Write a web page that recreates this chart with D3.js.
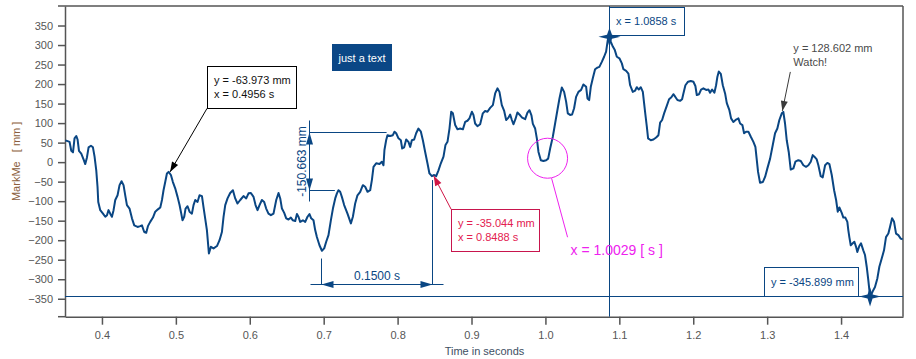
<!DOCTYPE html>
<html>
<head>
<meta charset="utf-8">
<script src="https://cdn.jsdelivr.net/npm/d3@7"></script>
<style>
  body { margin: 0; background: #fff; }
  svg { display: block; font-family: "Liberation Sans", Arial, sans-serif; }
</style>
</head>
<body>
<div id="chart"></div>
<script>
'use strict';

// Data (seconds / mm)
var timeSec = [
  0.3505, 0.3517, 0.3562, 0.3585, 0.3608, 0.3629, 0.3652, 0.3670, 0.3689, 0.3720,
  0.3751, 0.3774, 0.3797, 0.3819, 0.3851, 0.3878, 0.3900, 0.3923, 0.3940, 0.3950,
  0.3977, 0.4014, 0.4045, 0.4068, 0.4089, 0.4112, 0.4135, 0.4157, 0.4180, 0.4211,
  0.4238, 0.4265, 0.4292, 0.4315, 0.4338, 0.4373, 0.4406, 0.4437, 0.4482, 0.4518,
  0.4541, 0.4572, 0.4599, 0.4622, 0.4653, 0.4690, 0.4721, 0.4757, 0.4789, 0.4812,
  0.4833, 0.4856, 0.4879, 0.4901, 0.4933, 0.4960, 0.4991, 0.5023, 0.5050, 0.5073,
  0.5090, 0.5113, 0.5131, 0.5158, 0.5185, 0.5217, 0.5239, 0.5262, 0.5293, 0.5320,
  0.5353, 0.5374, 0.5420, 0.5447, 0.5474, 0.5510, 0.5556, 0.5591, 0.5623, 0.5645,
  0.5668, 0.5699, 0.5735, 0.5772, 0.5803, 0.5834, 0.5871, 0.5915, 0.5952, 0.5983,
  0.6015, 0.6051, 0.6078, 0.6105, 0.6132, 0.6164, 0.6195, 0.6222, 0.6253, 0.6286,
  0.6321, 0.6358, 0.6389, 0.6412, 0.6435, 0.6466, 0.6493, 0.6524, 0.6556, 0.6583,
  0.6615, 0.6638, 0.6659, 0.6682, 0.6719, 0.6750, 0.6781, 0.6808, 0.6831, 0.6862,
  0.6885, 0.6908, 0.6943, 0.6976, 0.7007, 0.7034, 0.7065, 0.7097, 0.7125, 0.7156,
  0.7179, 0.7200, 0.7223, 0.7246, 0.7277, 0.7322, 0.7368, 0.7395, 0.7426, 0.7457,
  0.7494, 0.7530, 0.7561, 0.7593, 0.7629, 0.7652, 0.7674, 0.7710, 0.7755, 0.7787,
  0.7809, 0.7822, 0.7845, 0.7863, 0.7900, 0.7936, 0.7958, 0.7981, 0.8012, 0.8044,
  0.8062, 0.8089, 0.8116, 0.8147, 0.8170, 0.8193, 0.8224, 0.8251, 0.8282, 0.8315,
  0.8342, 0.8373, 0.8404, 0.8431, 0.8464, 0.8495, 0.8522, 0.8553, 0.8585, 0.8621,
  0.8648, 0.8675, 0.8702, 0.8725, 0.8748, 0.8779, 0.8810, 0.8846, 0.8883, 0.8914,
  0.8945, 0.8972, 0.9005, 0.9026, 0.9049, 0.9080, 0.9117, 0.9153, 0.9184, 0.9216,
  0.9252, 0.9289, 0.9320, 0.9351, 0.9378, 0.9410, 0.9442, 0.9469, 0.9500, 0.9523,
  0.9546, 0.9567, 0.9594, 0.9621, 0.9658, 0.9685, 0.9726, 0.9757, 0.9784, 0.9811,
  0.9830, 0.9861, 0.9884, 0.9906, 0.9938, 0.9973, 1.0010, 1.0037, 1.0064, 1.0100,
  1.0131, 1.0162, 1.0190, 1.0222, 1.0253, 1.0280, 1.0303, 1.0334, 1.0361, 1.0388,
  1.0415, 1.0447, 1.0483, 1.0514, 1.0551, 1.0569, 1.0592, 1.0614, 1.0641, 1.0672,
  1.0703, 1.0730, 1.0763, 1.0794, 1.0821, 1.0844, 1.0858, 1.0885, 1.0912, 1.0939,
  1.0966, 1.1001, 1.1034, 1.1055, 1.1092, 1.1123, 1.1146, 1.1182, 1.1213, 1.1236,
  1.1263, 1.1290, 1.1318, 1.1335, 1.1353, 1.1372, 1.1389, 1.1426, 1.1461, 1.1498,
  1.1529, 1.1552, 1.1579, 1.1606, 1.1642, 1.1673, 1.1704, 1.1731, 1.1758, 1.1786,
  1.1822, 1.1849, 1.1867, 1.1894, 1.1930, 1.1967, 1.2002, 1.2029, 1.2048, 1.2079,
  1.2106, 1.2137, 1.2174, 1.2205, 1.2228, 1.2255, 1.2286, 1.2309, 1.2327, 1.2346,
  1.2373, 1.2400, 1.2431, 1.2454, 1.2489, 1.2512, 1.2543, 1.2580, 1.2611, 1.2634,
  1.2665, 1.2688, 1.2715, 1.2746, 1.2779, 1.2814, 1.2841, 1.2860, 1.2877, 1.2904,
  1.2941, 1.2972, 1.3003, 1.3040, 1.3076, 1.3107, 1.3138, 1.3165, 1.3198, 1.3219,
  1.3242, 1.3265, 1.3292, 1.3319, 1.3355, 1.3382, 1.3422, 1.3455, 1.3490, 1.3526,
  1.3558, 1.3590, 1.3617, 1.3639, 1.3671, 1.3693, 1.3725, 1.3752, 1.3784, 1.3815,
  1.3842, 1.3874, 1.3906, 1.3933, 1.3955, 1.3977, 1.4009, 1.4031, 1.4058, 1.4085,
  1.4098, 1.4112, 1.4131, 1.4158, 1.4180, 1.4203, 1.4220, 1.4247, 1.4270, 1.4301,
  1.4324, 1.4347, 1.4369, 1.4383, 1.4392, 1.4415, 1.4436, 1.4459, 1.4491, 1.4518,
  1.4550, 1.4581, 1.4608, 1.4640, 1.4662, 1.4690, 1.4717, 1.4744, 1.4775, 1.4807,
  1.4834
]

var markMe = [
  55, 55, 52, 29, 25, 61, 67, 58, 29, 22,
  7, -5, 12, 38, 42, 38, 14, -21, -63, -102,
  -123, -132, -140, -136, -123, -132, -140, -123, -97, -85,
  -59, -49, -59, -85, -110, -119, -144, -162, -166, -164,
  -162, -179, -181, -164, -153, -142, -127, -121, -116, -97,
  -72, -51, -29, -25, -33, -51, -67, -89, -110, -132,
  -149, -140, -119, -113, -127, -132, -110, -97, -102, -85,
  -87, -115, -174, -234, -217, -221, -215, -200, -179, -140,
  -110, -93, -79, -72, -93, -106, -97, -87, -93, -80,
  -79, -89, -110, -123, -110, -97, -102, -119, -132, -136,
  -132, -97, -79, -93, -119, -130, -144, -147, -142, -149,
  -151, -133, -140, -153, -149, -153, -140, -133, -144, -149,
  -174, -192, -213, -227, -221, -204, -187, -149, -119, -93,
  -80, -72, -76, -89, -110, -132, -157, -140, -106, -85,
  -76, -59, -63, -76, -72, -46, -12, -3, -5, 1,
  -8, 31, 56, 69, 67, 69, 78, 74, 61, 56,
  35, 38, 58, 52, 39, 56, 58, 74, 86, 78,
  56, 26, -3, -29, -36, -33, -36, -21, -3, 14,
  44, 52, 86, 129, 125, 95, 84, 86, 84, 103,
  106, 112, 129, 121, 99, 92, 97, 125, 131, 129,
  139, 146, 176, 189, 180, 146, 131, 108, 114, 122,
  108, 97, 110, 127, 120, 114, 110, 127, 133, 120,
  98, 86, 61, 26, 5, 3, 5, 9, 35, 65,
  99, 133, 163, 191, 180, 155, 125, 121, 122, 138,
  167, 180, 185, 199, 193, 163, 159, 193, 215, 238,
  242, 244, 257, 270, 283, 313, 321, 308, 296, 287,
  270, 266, 253, 238, 234, 227, 197, 180, 183, 192,
  186, 192, 180, 151, 121, 91, 61, 56, 58, 63,
  69, 101, 108, 125, 144, 161, 166, 174, 167, 159,
  157, 161, 176, 197, 206, 208, 206, 195, 172, 174,
  186, 189, 185, 186, 178, 186, 178, 197, 219, 232,
  226, 197, 176, 151, 133, 112, 103, 109, 112, 99,
  95, 74, 78, 78, 65, 52, 39, 5, -25, -53,
  -51, -38, -16, 9, 44, 74, 86, 108, 125, 128.6,
  99, 56, 26, -19, -16, 1, 5, 3, -8, -12,
  -8, 1, 18, 14, 7, -8, -36, -39, -8, -2,
  -5, -33, -72, -97, -127, -116, -130, -142, -142, -153,
  -174, -192, -213, -208, -204, -217, -230, -215, -208, -226,
  -238, -268, -303, -328, -345.9, -337, -328, -320, -298, -268,
  -247, -226, -192, -183, -166, -144, -153, -183, -187, -196,
  -198
]

var xTicks = [0.4, 0.5, 0.6, 0.7, 0.8, 0.9, 1.0, 1.1, 1.2, 1.3, 1.4]
var yTicks = [-350, -300, -250, -200, -150, -100, -50, 0, 50, 100, 150, 200, 250, 300, 350]

// Annotated points
var peakX = 1.0858, peakY = 321
var lowX = 1.4392, lowY = -345.899
var call1 = { t: 0.4901, v: -25, lines: ['y = -63.973 mm', 'x = 0.4956 s'] }
var call2 = { t: 0.8488, v: -35.044, lines: ['y = -35.044 mm', 'x = 0.8488 s'] }
var watch = { t: 1.3219, v: 128.6, lines: ['y = 128.602 mm', 'Watch!'] }
var ring = { t: 1.0029, v: 10, label: 'x = 1.0029 [ s ]' }
var dimV = { t: 0.6804, v1: 78, v2: 78 - 150.663, end1: 0.7851, end2: 0.7151, label: '-150.663 mm' }
var dimH = { t1: 0.6966, t2: 0.8466, v: -313, start1: -247, start2: -46, label: '0.1500 s' }

var W = 916, H = 359
var margin = { top: 6, right: 13, bottom: 42.3, left: 65 }
var blue = '#0a4683'
var axisColor = '#555'

var x = d3.scaleLinear()
  .domain([0.35, 1.4838])
  .range([margin.left, W - margin.right])

var y = d3.scaleLinear()
  .domain([-396, 400])
  .range([H - margin.bottom, margin.top])

var svg = d3.select('#chart').append('svg')
  .attr('width', W)
  .attr('height', H)

var x0 = margin.left, x1 = W - margin.right
var y0 = margin.top, y1 = H - margin.bottom

// Axes
// ----
var yAxis = svg.append('g')
  .attr('transform', 'translate(' + x0 + ',0)')
  .call(d3.axisLeft(y).tickValues(yTicks).tickSize(7).tickSizeOuter(0).tickPadding(5))

var xAxis = svg.append('g')
  .attr('transform', 'translate(0,' + y1 + ')')
  .call(d3.axisBottom(x).tickValues(xTicks).tickFormat(d3.format('.1f')).tickSize(8).tickSizeOuter(0).tickPadding(7))

;[yAxis, xAxis].forEach(function(ax) {
  ax.selectAll('path, line').attr('stroke', axisColor).attr('stroke-width', 1.5)
  ax.selectAll('text')
    .attr('fill', '#565656')
    .style('font-size', '11px')
    .style('font-family', '"Liberation Sans", Arial, sans-serif')
})

// frame
svg.append('line').attr('x1', x0 - 7).attr('x2', x1).attr('y1', y0).attr('y2', y0)
  .attr('stroke', axisColor).attr('stroke-width', 1.5)
svg.append('line').attr('x1', x0 - 7).attr('x2', x0).attr('y1', y1).attr('y2', y1)
  .attr('stroke', axisColor).attr('stroke-width', 1.5)
svg.append('line').attr('x1', x1).attr('x2', x1).attr('y1', y0).attr('y2', y1)
  .attr('stroke', axisColor).attr('stroke-width', 1.5)

// axis titles
svg.append('text')
  .attr('transform', 'translate(20,' + ((y0 + y1) / 2) + ') rotate(-90)')
  .attr('text-anchor', 'middle')
  .style('white-space', 'pre')
  .style('font-size', '11px')
  .attr('fill', '#8b5e3c')
  .text('MarkMe   [ mm ]')

svg.append('text')
  .attr('x', (x0 + x1) / 2 + 0.5)
  .attr('y', 355)
  .attr('text-anchor', 'middle')
  .style('font-size', '11px')
  .attr('fill', '#3d4f63')
  .text('Time in seconds')

// Helpers
// -------
function arrowHead(g, fx, fy, tx, ty, color, len, half) {
  var a = Math.atan2(ty - fy, tx - fx)
  var bx = tx - len * Math.cos(a), by = ty - len * Math.sin(a)
  var px = half * Math.sin(a), py = half * Math.cos(a)
  g.append('polygon')
    .attr('points', [[tx, ty], [bx + px, by - py], [bx - px, by + py]].join(' '))
    .attr('fill', color)
}

function arrow(g, fx, fy, tx, ty, color) {
  g.append('line')
    .attr('x1', fx).attr('y1', fy).attr('x2', tx).attr('y2', ty)
    .attr('stroke', color).attr('stroke-width', 1)
  arrowHead(g, fx, fy, tx, ty, color, 10, 3.5)
}

function textBox(g, bx, by, bw, bh, lines, stroke, fill, color) {
  g.append('rect')
    .attr('x', bx + 0.5).attr('y', by + 0.5)
    .attr('width', bw).attr('height', bh)
    .attr('fill', fill).attr('stroke', stroke).attr('stroke-width', 1)
  lines.forEach(function(l, i) {
    g.append('text')
      .attr('x', bx + 7)
      .attr('y', by + (lines.length > 1 ? 18 + i * 14 : bh / 2 + 4))
      .style('font-size', '11px')
      .attr('fill', color)
      .text(l)
  })
}

function star(g, cx, cy) {
  g.append('path')
    .attr('d', 'M-11,0 L-2.5,-2 L0,-9 L2.5,-2 L11,0 L2.5,2 L0,10 L-2.5,2 Z')
    .attr('transform', 'translate(' + cx + ',' + cy + ')')
    .attr('fill', blue)
}

var ann = svg.append('g')

// Reference lines
ann.append('line')
  .attr('x1', Math.round(x(peakX)) + 0.5).attr('x2', Math.round(x(peakX)) + 0.5)
  .attr('y1', y0).attr('y2', y1)
  .attr('stroke', blue).attr('stroke-width', 1)
ann.append('line')
  .attr('x1', x0).attr('x2', x1)
  .attr('y1', Math.round(y(lowY)) - 0.5).attr('y2', Math.round(y(lowY)) - 0.5)
  .attr('stroke', blue).attr('stroke-width', 1.2)

// Dimensions
// ----------
var dx = Math.round(x(dimV.t)) + 0.5
var dy1 = Math.round(y(dimV.v1)) + 0.5, dy2 = Math.round(y(dimV.v2)) + 0.5
ann.append('line').attr('x1', dx).attr('x2', dx).attr('y1', dy1 - 12).attr('y2', dy2 + 11)
  .attr('stroke', blue)
ann.append('line').attr('x1', dx).attr('x2', x(dimV.end1)).attr('y1', dy1).attr('y2', dy1)
  .attr('stroke', blue)
ann.append('line').attr('x1', dx).attr('x2', x(dimV.end2)).attr('y1', dy2).attr('y2', dy2)
  .attr('stroke', blue)
arrowHead(ann, dx, dy1 + 12, dx, dy1, blue, 12, 3.5)
arrowHead(ann, dx, dy2 - 12, dx, dy2, blue, 12, 3.5)
ann.append('text')
  .attr('transform', 'translate(' + (dx - 4) + ',' + ((dy1 + dy2) / 2) + ') rotate(-90)')
  .attr('text-anchor', 'middle')
  .style('font-size', '12px')
  .attr('fill', blue)
  .text(dimV.label)

var hy = Math.round(y(dimH.v)) + 0.5
var hx1 = Math.round(x(dimH.t1)) + 0.5, hx2 = Math.round(x(dimH.t2)) + 0.5
ann.append('line').attr('x1', hx1 - 11).attr('x2', hx2 + 11).attr('y1', hy).attr('y2', hy)
  .attr('stroke', blue)
ann.append('line').attr('x1', hx1).attr('x2', hx1).attr('y1', y(dimH.start1)).attr('y2', hy)
  .attr('stroke', blue)
ann.append('line').attr('x1', hx2).attr('x2', hx2).attr('y1', y(dimH.start2)).attr('y2', hy)
  .attr('stroke', blue)
arrowHead(ann, hx1 + 12, hy, hx1, hy, blue, 12, 3.5)
arrowHead(ann, hx2 - 12, hy, hx2, hy, blue, 12, 3.5)
ann.append('text')
  .attr('x', (hx1 + hx2) / 2)
  .attr('y', hy - 5)
  .attr('text-anchor', 'middle')
  .style('font-size', '12px')
  .attr('fill', blue)
  .text(dimH.label)

// Curve
// -----
var series = timeSec.map(function(t, i) { return { t: t, v: markMe[i] } })

svg.append('path')
  .datum(series)
  .attr('d', d3.line()
    .x(function(d) { return x(d.t) })
    .y(function(d) { return y(d.v) }))
  .attr('fill', 'none')
  .attr('stroke', blue)
  .attr('stroke-width', 2)
  .attr('stroke-linejoin', 'round')

// Callouts
// --------
var over = svg.append('g')

// black callout
var c1x = x(call1.t), c1y = y(call1.v)
arrow(over, c1x + 38.5, c1y - 63.5, c1x + 1.5, c1y, '#000')
textBox(over, Math.round(c1x + 38), Math.round(c1y - 106), 89, 42, call1.lines, '#000', '#fff', '#111')

// red callout
var c2x = x(call2.t), c2y = y(call2.v)
arrow(over, c2x + 17.5, c2y + 33.5, c2x, c2y, '#cf1646')
textBox(over, Math.round(c2x + 17), Math.round(c2y + 33), 88, 42, call2.lines, '#c8154d', '#fff', '#e3204f')

// watch
var wx = x(watch.t), wy = y(watch.v)
arrow(over, wx + 7, wy - 40, wx - 1, wy - 1, '#3a3a3a')
watch.lines.forEach(function(l, i) {
  over.append('text')
    .attr('x', wx + 10)
    .attr('y', wy - 60 + i * 14)
    .style('font-size', '11px')
    .attr('fill', '#4a4a4a')
    .text(l)
})

// magenta ring
var rx = x(ring.t), ry = y(ring.v)
over.append('circle')
  .attr('cx', rx).attr('cy', ry).attr('r', 20)
  .attr('fill', 'none').attr('stroke', '#ee22ee').attr('stroke-width', 1)
over.append('line')
  .attr('x1', rx + 4).attr('y1', ry + 20)
  .attr('x2', rx + 20).attr('y2', ry + 79)
  .attr('stroke', '#ee22ee').attr('stroke-width', 1)
over.append('text')
  .attr('x', rx + 23)
  .attr('y', ry + 97)
  .style('font-size', '14px')
  .attr('fill', '#ee22ee')
  .text(ring.label)

// peak / low markers
var pxx = Math.round(x(peakX)) + 0.5
textBox(over, pxx - 0.5, y0 + 1, 75, 28, ['x = 1.0858 s'], blue, '#fff', blue)
star(over, pxx, y(peakY))

var lyy = Math.round(y(lowY)) - 0.5
textBox(over, 764, lyy - 29.5, 94, 29, ['y = -345.899 mm'], blue, '#fff', blue)
star(over, x(lowX), lyy)

// just a text
over.append('rect')
  .attr('x', 332).attr('y', 44).attr('width', 60).attr('height', 27)
  .attr('fill', '#0b4786')
over.append('text')
  .attr('x', 362).attr('y', 61.5)
  .attr('text-anchor', 'middle')
  .style('font-size', '11px')
  .attr('fill', '#fff')
  .text('just a text')
</script>
</body>
</html>
